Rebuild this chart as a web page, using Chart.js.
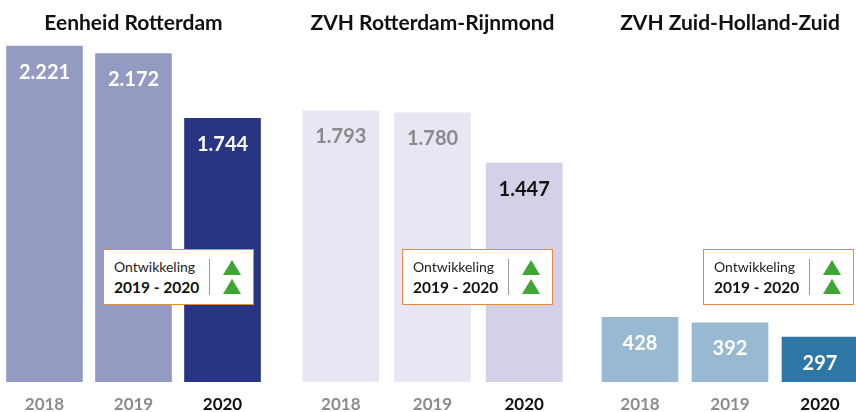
<!DOCTYPE html>
<html>
<head>
<meta charset="utf-8">
<script src="https://cdn.jsdelivr.net/npm/chart.js@4"></script>
<style>
  body { margin: 0; width: 856px; height: 412px; overflow: hidden; background: #fff; font-family: Lato, sans-serif; }
  .chart-box { position: absolute; top: 0; height: 412px; }
  .dev { position: absolute; top: 249px; width: 151px; height: 56px; border: 1.5px solid #e8883a; background: #fff; box-sizing: border-box; }
  .dev .t1 { position: absolute; left: 10px; top: 8px; font-size: 14px; color: #222; }
  .dev .t2 { position: absolute; left: 10px; top: 28px; font-size: 15.5px; font-weight: bold; color: #111; }
  .dev .sep { position: absolute; left: 105px; top: 9px; width: 1px; height: 36px; background: #999; }
  .dev .tri { position: absolute; left: 119px; width: 0; height: 0; border-left: 9px solid transparent; border-right: 9px solid transparent; border-bottom: 15px solid #3fa535; }
</style>
</head>
<body>
<div class="chart-box" style="left:0;width:267px"><canvas id="c1"></canvas></div>
<div class="chart-box" style="left:295px;width:275px"><canvas id="c2"></canvas></div>
<div class="chart-box" style="left:595px;width:270px"><canvas id="c3"></canvas></div>

<div class="dev" style="left:103px"><span class="t1">Ontwikkeling</span><span class="t2">2019 - 2020</span><div class="sep"></div><div class="tri" style="top:10px"></div><div class="tri" style="top:29px"></div></div>
<div class="dev" style="left:402px"><span class="t1">Ontwikkeling</span><span class="t2">2019 - 2020</span><div class="sep"></div><div class="tri" style="top:10px"></div><div class="tri" style="top:29px"></div></div>
<div class="dev" style="left:703px"><span class="t1">Ontwikkeling</span><span class="t2">2019 - 2020</span><div class="sep"></div><div class="tri" style="top:10px"></div><div class="tri" style="top:29px"></div></div>

<script>
'use strict';

// ***** DATA *****
let years = ['2018', '2019', '2020'];
let eenheidRotterdam = [2221, 2172, 1744];
let zvhRijnmond = [1793, 1780, 1447];
let zvhZhz = [428, 392, 297];
let titles = ['Eenheid Rotterdam', 'ZVH Rotterdam-Rijnmond', 'ZVH Zuid-Holland-Zuid'];

// ***** STYLES *****
let barColors = [
    ['#939bc2', '#939bc2', '#283583'],
    ['#e8e6f3', '#e8e6f3', '#d4d0e7'],
    ['#97bad2', '#97bad2', '#2e76a6']
];
let labelColors = [
    ['#fff', '#fff', '#fff'],
    ['#8a8a8a', '#8a8a8a', '#111'],
    ['#fff', '#fff', '#fff']
];

// dutch thousands separator
function formatNum(n) {
    return String(n).replace(/\B(?=(\d{3})+(?!\d))/g, '.');
}

let valueLabels = {
    id: 'valueLabels',
    afterDatasetsDraw(chart, args, opts) {
        let ctx = chart.ctx;
        let meta = chart.getDatasetMeta(0);
        ctx.save();
        ctx.font = 'bold 20px Lato';
        ctx.textAlign = 'center';
        ctx.textBaseline = 'middle';
        meta.data.forEach((bar, i) => {
            ctx.fillStyle = opts.colors[i];
            ctx.fillText(formatNum(chart.data.datasets[0].data[i]), bar.x, bar.y + 26);
        });
        ctx.restore();
    }
};

function makeChart(id, values, idx) {
    new Chart(document.getElementById(id), {
        type: 'bar',
        data: {
            labels: years,
            datasets: [{
                data: values,
                backgroundColor: barColors[idx],
                barThickness: 76
            }]
        },
        options: {
            responsive: true,
            maintainAspectRatio: false,
            animation: false,
            layout: { padding: 0 },
            plugins: {
                legend: { display: false },
                tooltip: { enabled: false },
                title: {
                    display: true,
                    text: titles[idx],
                    color: '#111',
                    font: { family: 'Lato', size: 21, weight: 'bold' },
                    padding: { top: 11, bottom: 4 }
                },
                valueLabels: { colors: labelColors[idx] }
            },
            scales: {
                x: {
                    grid: { display: false, drawTicks: false },
                    border: { display: false },
                    ticks: {
                        padding: 12,
                        color: (c) => c.index === 2 ? '#111' : '#8c8c8c',
                        font: { family: 'Lato', size: 17, weight: 'bold' }
                    },
                    afterFit: (s) => { s.height = 30; }
                },
                y: {
                    display: false,
                    min: 0,
                    max: 2260
                }
            }
        },
        plugins: [valueLabels]
    });
}

makeChart('c1', eenheidRotterdam, 0);
makeChart('c2', zvhRijnmond, 1);
makeChart('c3', zvhZhz, 2);
</script>
</body>
</html>
